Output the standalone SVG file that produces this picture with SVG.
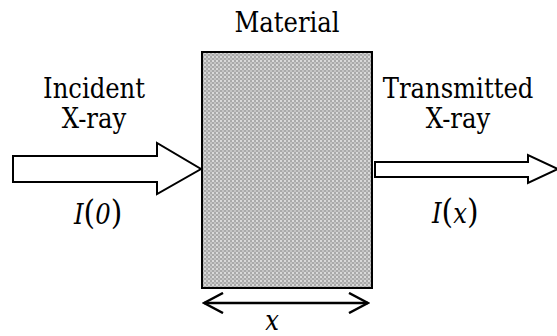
<svg xmlns="http://www.w3.org/2000/svg" width="557" height="336" viewBox="0 0 557 336">
<style>
text{font-family:"DejaVu Serif","Liberation Serif",serif;font-stretch:condensed;font-size:27px;fill:#000}
.c{text-anchor:middle}
.i{font-style:italic}
.p{font-size:33px}
.arrow{fill:#fff;stroke:#000;stroke-width:2}
.line{fill:none;stroke:#000;stroke-width:2.5}
</style>
<defs>
<pattern id="chk" width="4" height="4" patternUnits="userSpaceOnUse">
<rect width="4" height="4" fill="#a9a9a9"/>
<rect width="2" height="2" fill="#d9d9d9"/>
<rect x="2" y="2" width="2" height="2" fill="#c4c4c4"/>
</pattern>
<marker id="open" viewBox="0 0 22 22" refX="20" refY="11" markerWidth="22" markerHeight="22" markerUnits="userSpaceOnUse" orient="auto-start-reverse">
<path d="M1,1 L20,11 L1,21" fill="none" stroke="#000" stroke-width="2.5"/>
</marker>
</defs>
<g id="material">
<rect x="202" y="52" width="170" height="236" fill="url(#chk)" stroke="#000" stroke-width="2"/>
<text class="c" x="287" y="32">Material</text>
</g>
<g id="incident">
<path class="arrow" d="M13,156 L157,156 L157,143 L201,169 L157,194 L157,182 L13,182 Z"/>
<text class="c" x="94" y="98">Incident</text>
<text class="c" x="94" y="128">X-ray</text>
<text x="74" y="224"><tspan class="i">I</tspan><tspan class="p">(</tspan><tspan class="i">0</tspan><tspan class="p">)</tspan></text>
</g>
<g id="transmitted">
<path class="arrow" d="M375,162 L528,162 L528,155 L558,169 L528,183 L528,177 L375,177 Z"/>
<text class="c" x="458" y="98">Transmitted</text>
<text class="c" x="458" y="128">X-ray</text>
<text x="432" y="223"><tspan class="i">I</tspan><tspan class="p">(</tspan><tspan class="i">x</tspan><tspan class="p">)</tspan></text>
</g>
<g id="connectors">
<line class="line" x1="204" y1="303" x2="368" y2="303" marker-start="url(#open)" marker-end="url(#open)"/>
<text class="c i" x="272" y="330">x</text>
</g>
</svg>
